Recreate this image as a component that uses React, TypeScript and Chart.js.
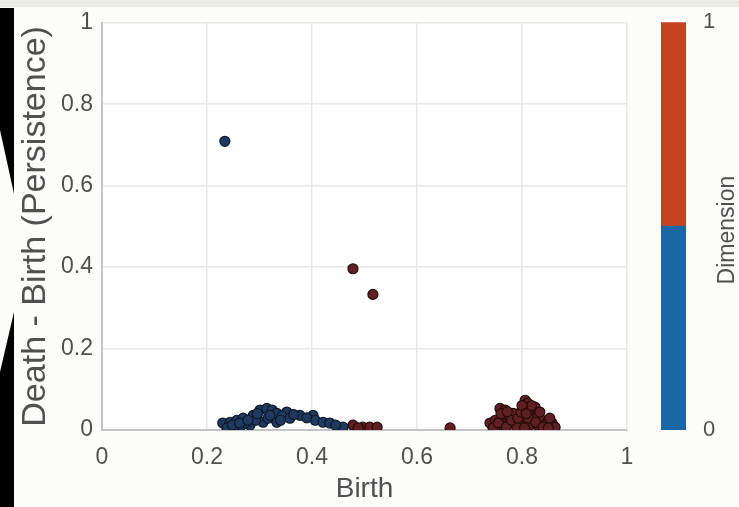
import React, { useEffect, useRef } from "react";
import { Chart, registerables } from "chart.js";

Chart.register(...registerables);

// Dimension 0 points (birth, persistence)
const dim0Birth = [
  0.234, 0.230, 0.244, 0.257, 0.269, 0.288, 0.301, 0.314, 0.324, 0.333, 0.352, 0.377, 0.402,
  0.238, 0.263, 0.282, 0.307, 0.333, 0.406, 0.421, 0.434, 0.459,
  0.253, 0.274, 0.293, 0.316, 0.343, 0.358,
  0.248, 0.262, 0.278, 0.296, 0.320, 0.340, 0.365, 0.390, 0.445,
];
const dim0Persistence = [
  0.709, 0.017, 0.019, 0.024, 0.029, 0.036, 0.049, 0.053, 0.049, 0.041, 0.044, 0.036, 0.036,
  0.005, 0.007, 0.012, 0.019, 0.019, 0.024, 0.019, 0.017, 0.007,
  0.010, 0.017, 0.024, 0.029, 0.034, 0.029,
  0.012, 0.017, 0.024, 0.040, 0.036, 0.024, 0.038, 0.030, 0.012,
];

// Dimension 1 points (birth, persistence)
const dim1Birth = [
  0.478, 0.516, 0.478, 0.497, 0.510, 0.524, 0.488, 0.663,
  0.739, 0.749, 0.758, 0.768, 0.764, 0.777, 0.773, 0.787, 0.796, 0.806, 0.811, 0.810,
  0.819, 0.802, 0.821, 0.830, 0.838, 0.848, 0.857, 0.863, 0.829, 0.815, 0.790, 0.762,
  0.783, 0.844, 0.853, 0.825,
  0.745, 0.755, 0.770, 0.780, 0.792, 0.798, 0.805, 0.812, 0.818, 0.826, 0.834, 0.840,
  0.850, 0.760, 0.772, 0.800, 0.808,
];
const dim1Persistence = [
  0.396, 0.333, 0.012, 0.007, 0.007, 0.007, 0.005, 0.005,
  0.017, 0.024, 0.053, 0.049, 0.032, 0.032, 0.017, 0.019, 0.012, 0.073, 0.066, 0.049,
  0.044, 0.032, 0.029, 0.032, 0.024, 0.019, 0.017, 0.007, 0.012, 0.012, 0.007, 0.012,
  0.041, 0.012, 0.029, 0.056,
  0.005, 0.017, 0.007, 0.024, 0.029, 0.044, 0.005, 0.029, 0.060, 0.019, 0.044, 0.007,
  0.005, 0.040, 0.045, 0.060, 0.040,
];

const axisTicks = [0, 0.2, 0.4, 0.6, 0.8, 1];
const dimensionLabels = ["0", "1"];
const dimensionShares = [0.5, 0.5];
const dimensionColors = ["#1b67a6", "#c7431f"];

const TEXT = "#505050";
const FONT = "'Liberation Sans', Arial, Helvetica, sans-serif";

export default function App() {
  const mainRef = useRef<HTMLCanvasElement>(null);
  const barRef = useRef<HTMLCanvasElement>(null);

  useEffect(() => {
    const toPts = (xs: number[], ys: number[]) => xs.map((x, i) => ({ x, y: ys[i] }));
    const fmt = (v: any) => `${Math.round(Number(v) * 10) / 10}`;
    const whiteArea = {
      id: "whiteArea",
      beforeDraw(chart: any) {
        const { ctx, chartArea } = chart;
        ctx.save();
        ctx.fillStyle = "#ffffff";
        ctx.fillRect(chartArea.left, chartArea.top, chartArea.right - chartArea.left, chartArea.bottom - chartArea.top);
        ctx.restore();
      },
    };
    const main = new Chart(mainRef.current!, {
      type: "scatter",
      data: {
        datasets: [
          {
            label: "Dimension 0",
            data: toPts(dim0Birth, dim0Persistence),
            backgroundColor: "#1f3a60",
            borderColor: "#0d1828",
            borderWidth: 1.2,
            pointRadius: 5,
          },
          {
            label: "Dimension 1",
            data: toPts(dim1Birth, dim1Persistence),
            backgroundColor: "#5e2022",
            borderColor: "#260b0b",
            borderWidth: 1.2,
            pointRadius: 5,
          },
        ],
      },
      options: {
        responsive: false,
        animation: false,
        layout: { padding: { left: 15, right: 23, top: 18, bottom: 0 } },
        plugins: { legend: { display: false }, tooltip: { enabled: false } },
        scales: {
          x: {
            type: "linear",
            min: 0,
            max: 1,
            afterBuildTicks: (s: any) => { s.ticks = axisTicks.map((v) => ({ value: v })); },
            afterFit: (s: any) => { s.height = 77; },
            grid: { color: "#e8e8e8", lineWidth: 1.5, drawTicks: false },
            border: { color: "#c4c4c4", width: 2 },
            ticks: { color: TEXT, font: { family: FONT, size: 23 }, padding: 14, maxRotation: 0, callback: fmt },
            title: { display: true, text: "Birth", color: TEXT, font: { family: FONT, size: 28 }, padding: { top: 0, bottom: 1 } },
          },
          y: {
            type: "linear",
            min: 0,
            max: 1,
            afterBuildTicks: (s: any) => { s.ticks = axisTicks.map((v) => ({ value: v })); },
            afterFit: (s: any) => { s.width = 102 - 15; },
            grid: { color: "#e8e8e8", lineWidth: 1.5, drawTicks: false },
            border: { color: "#c4c4c4", width: 2 },
            ticks: { color: TEXT, font: { family: FONT, size: 23 }, padding: 9, callback: fmt },
            title: { display: true, text: "Death - Birth (Persistence)", color: TEXT, font: { family: FONT, size: 34 }, padding: { top: 0, bottom: 0 } },
          },
        },
      },
      plugins: [whiteArea],
    });

    const dimTitle = {
      id: "dimTitle",
      afterDraw(chart: any) {
        const { ctx, chartArea } = chart;
        ctx.save();
        ctx.translate(78, (chartArea.top + chartArea.bottom) / 2 + 4);
        ctx.rotate(-Math.PI / 2);
        ctx.fillStyle = TEXT;
        ctx.font = `23px ${FONT}`;
        ctx.textAlign = "center";
        ctx.textBaseline = "middle";
        ctx.fillText("Dimension", 0, 0);
        ctx.restore();
      },
    };
    const bar = new Chart(barRef.current!, {
      type: "bar",
      data: {
        labels: ["Dimension"],
        datasets: dimensionShares.map((v, i) => ({
          label: dimensionLabels[i],
          data: [v],
          backgroundColor: dimensionColors[i],
          borderWidth: 0,
          barPercentage: 1,
          categoryPercentage: 1,
          stack: "s",
        })),
      },
      options: {
        responsive: false,
        animation: false,
        layout: { padding: { left: 11, right: 0, top: 17, bottom: 77 } },
        plugins: { legend: { display: false }, tooltip: { enabled: false } },
        scales: {
          x: { display: false, stacked: true },
          y: {
            stacked: true,
            position: "right",
            min: 0,
            max: 1,
            afterBuildTicks: (s: any) => { s.ticks = [{ value: 0 }, { value: 1 }]; },
            afterFit: (s: any) => { s.width = 53; },
            grid: { display: false },
            border: { display: false },
            ticks: { color: TEXT, font: { family: FONT, size: 22 }, padding: 9, callback: fmt },
          },
        },
      },
      plugins: [dimTitle],
    });

    return () => {
      main.destroy();
      bar.destroy();
    };
  }, []);

  return (
    <div style={{ position: "fixed", left: 0, top: 0, width: 739, height: 507, background: "#fcfcfb", overflow: "hidden" }}>
      <div style={{ position: "absolute", left: 0, top: 0, width: 739, height: 7, background: "#ecece6" }} />
      <div style={{ position: "absolute", left: 0, top: 0, width: 650, height: 507 }}>
        <canvas ref={mainRef} width={650} height={507} />
      </div>
      <div style={{ position: "absolute", left: 650, top: 0, width: 89, height: 507 }}>
        <canvas ref={barRef} width={89} height={507} />
      </div>
      <div style={{ position: "absolute", left: 0, top: 0, width: 14, height: 507, background: "#000", clipPath: "polygon(0 8px, 14px 8px, 14px 194px, 0 130px)" }} />
      <div style={{ position: "absolute", left: 0, top: 0, width: 14, height: 507, background: "#000", clipPath: "polygon(14px 312px, 14px 507px, 0 507px, 0 372px)" }} />
    </div>
  );
}
